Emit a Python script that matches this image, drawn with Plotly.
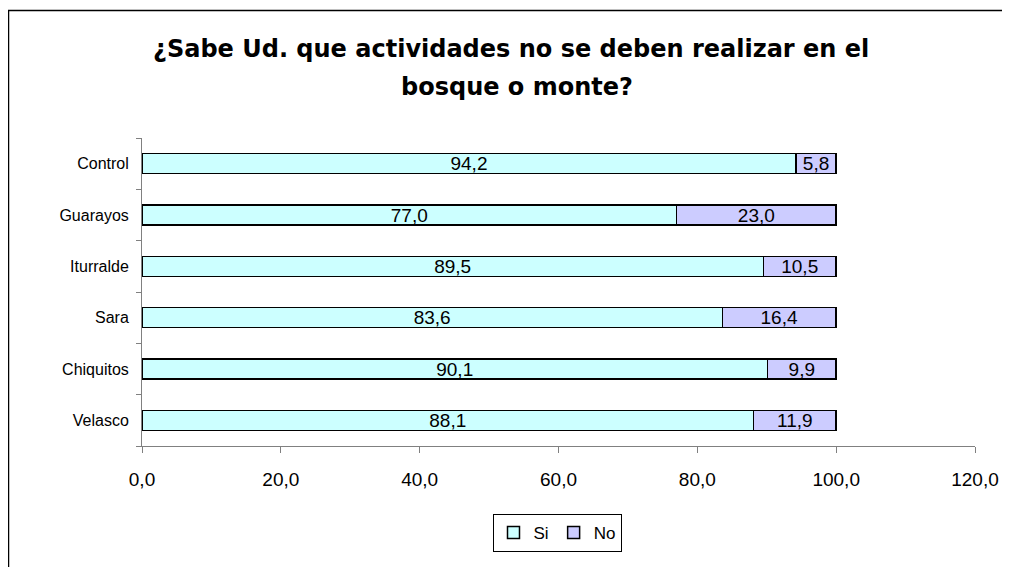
import plotly.graph_objects as go

categories = ["Velasco", "Chiquitos", "Sara", "Iturralde", "Guarayos", "Control"]
si_values = [88.1, 90.1, 83.6, 89.5, 77.0, 94.2]
no_values = [11.9, 9.9, 16.4, 10.5, 23.0, 5.8]
x_ticks = [0, 20, 40, 60, 80, 100, 120]

title_line1 = "¿Sabe Ud. que actividades no se deben realizar en el"
title_line2 = "bosque o monte?"

# page body has an 8px margin: figure coordinates = reference pixels - 8
OFF = 8
W, H = 1010 - OFF, 567 - OFF
PL, PR, PT, PB = 142, 975, 138, 446  # plot area in reference pixels
L, R, T, B = PL - OFF, W - (PR - OFF), PT - OFF, H - (PB - OFF)
pw, ph = PR - PL, PB - PT

def px_x(px):
    return (px - PL) / pw

def px_y(py):
    return (PB - py) / ph

LABEL_FONT = "Liberation Sans, Arial, sans-serif"
TITLE_FONT = "DejaVu Sans, Verdana, sans-serif"

fig = go.Figure()
fig.add_trace(go.Bar(
    y=categories, x=si_values, name="Si", orientation="h",
    marker=dict(color="#CCFFFF", line=dict(color="#000000", width=1.5)),
    texttemplate="%{x:.1f}", textposition="inside", insidetextanchor="middle",
    textfont=dict(family=LABEL_FONT, size=19, color="#000000"),
))
fig.add_trace(go.Bar(
    y=categories, x=no_values, name="No", orientation="h",
    marker=dict(color="#CCCCFF", line=dict(color="#000000", width=1.5)),
    texttemplate="%{x:.1f}", textposition="inside", insidetextanchor="middle",
    textfont=dict(family=LABEL_FONT, size=19, color="#000000"),
))

fig.update_layout(
    width=W, height=H,
    margin=dict(l=L, r=R, t=T, b=B, pad=0),
    barmode="stack", bargap=0.61,
    separators=",.",
    paper_bgcolor="white", plot_bgcolor="white",
    font=dict(family=LABEL_FONT, size=18, color="#000000"),
    showlegend=True,
    legend=dict(
        orientation="h", x=px_x(557), y=px_y(533), xanchor="center", yanchor="middle",
        bordercolor="#000000", borderwidth=1, bgcolor="white", traceorder="normal",
        font=dict(size=17), itemwidth=30, tracegroupgap=0, itemclick=False,
    ),
    uniformtext=dict(mode="show", minsize=19),
)

fig.update_xaxes(
    range=[0, 120], tickvals=x_ticks, tickformat=".1f",
    showgrid=False, zeroline=False,
    showline=True, linecolor="#808080", linewidth=1,
    ticks="outside", ticklen=6, tickcolor="#808080",
    tickfont=dict(size=19), ticklabelstandoff=10,
)
fig.update_yaxes(
    showgrid=False, zeroline=False,
    showline=True, linecolor="#808080", linewidth=1,
    ticks="outside", ticklen=5, tickcolor="#808080", tickson="boundaries",
    tickfont=dict(size=16), ticklabelstandoff=9,
)

fig.add_annotation(text="<b>" + title_line1 + "</b>", xref="paper", yref="paper",
                   x=px_x(511), y=px_y(49), xanchor="center", yanchor="middle",
                   showarrow=False, font=dict(size=24, family=TITLE_FONT))
fig.add_annotation(text="<b>" + title_line2 + "</b>", xref="paper", yref="paper",
                   x=px_x(517), y=px_y(87), xanchor="center", yanchor="middle",
                   showarrow=False, font=dict(size=24, family=TITLE_FONT))

fig.add_shape(type="rect", xref="paper", yref="paper",
              x0=px_x(8.5), x1=px_x(1030), y0=px_y(590), y1=px_y(10.5),
              line=dict(color="#000000", width=1.5), fillcolor="rgba(0,0,0,0)", layer="below")

fig.write_html("out.html")
